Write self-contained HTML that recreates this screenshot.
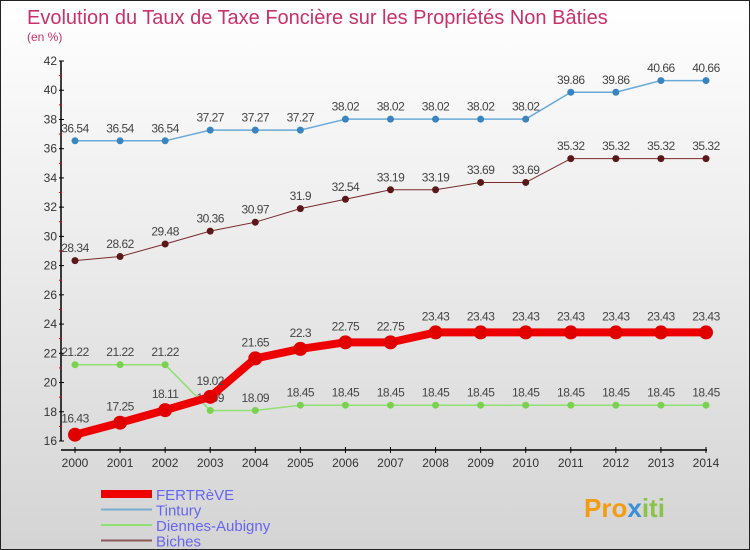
<!DOCTYPE html>
<html><head><meta charset="utf-8"><style>
body{margin:0;width:750px;height:550px;overflow:hidden;font-family:"Liberation Sans",sans-serif}
#wrap{position:relative;width:748px;height:548px;border:1px solid #222;background:linear-gradient(#ffffff,#d4d4d4)}
</style></head><body>
<div id="wrap">
<svg id="chart" width="748" height="548" style="position:absolute;left:0;top:0">
<text x="26" y="23" font-size="20" fill="#c8316a">Evolution du Taux de Taxe Foncière sur les Propriétés Non Bâties</text>
<text x="26" y="40" font-size="12" fill="#c8316a">(en %)</text>
<g id="axes"></g><g id="series"></g><g id="legend"></g>
<text x="583" y="516" font-size="26" font-weight="bold" fill="#f39c12">Pro<tspan fill="#3a8fd8">x</tspan><tspan fill="#8bc34a">iti</tspan></text>
</svg>
</div>
<script>
const years=[2000,2001,2002,2003,2004,2005,2006,2007,2008,2009,2010,2011,2012,2013,2014];
const yTicks=[16,18,20,22,24,26,28,30,32,34,36,38,40,42];
const fertreve=[16.43,17.25,18.11,19.02,21.65,22.3,22.75,22.75,23.43,23.43,23.43,23.43,23.43,23.43,23.43];
const tintury=[36.54,36.54,36.54,37.27,37.27,37.27,38.02,38.02,38.02,38.02,38.02,39.86,39.86,40.66,40.66];
const diennes=[21.22,21.22,21.22,18.09,18.09,18.45,18.45,18.45,18.45,18.45,18.45,18.45,18.45,18.45,18.45];
const biches=[28.34,28.62,29.48,30.36,30.97,31.9,32.54,33.19,33.19,33.69,33.69,35.32,35.32,35.32,35.32];
const NS="http://www.w3.org/2000/svg";
const x=i=>74+i*(705-74)/(years.length-1);
const y=v=>440-(v-16)*(380/26);
function mk(tag,attrs,parent){const e=document.createElementNS(NS,tag);for(const k in attrs)e.setAttribute(k,attrs[k]);parent.appendChild(e);return e;}
const axes=document.getElementById('axes');
let l=mk('line',{x1:60,y1:y(42),x2:60,y2:y(16),stroke:'#000','stroke-width':1.5},axes);


l=mk('line',{x1:60,y1:449,x2:706,y2:449,stroke:'#000','stroke-width':1.5},axes);


yTicks.forEach((t,k)=>{
 mk('line',{x1:58,x2:63,y1:y(t),y2:y(t),stroke:'#000'},axes);
 if(k<yTicks.length-1) mk('line',{x1:58,x2:61,y1:y(t+1),y2:y(t+1),stroke:'#e00'},axes);
 const tx=mk('text',{x:56,y:y(t)+4,'text-anchor':'end','font-size':12,fill:'#333'},axes);tx.textContent=t;
 
 
});
years.forEach((yr,i)=>{
 mk('line',{x1:x(i),x2:x(i),y1:446,y2:452,stroke:'#000'},axes);
 const tx=mk('text',{x:x(i),y:466,'text-anchor':'middle','font-size':12,fill:'#333'},axes);tx.textContent=yr;
 
 
});
const ser=document.getElementById('series');
const defs=[
 {d:biches,c:'#7b2a2a',w:1,r:3.5,dot:'#5a1818',name:'biches'},
 {d:diennes,c:'#8fe070',w:1.5,r:3.5,dot:'#7ad14f',name:'diennes-aubigny'},
 {d:tintury,c:'#6aaad8',w:1.5,r:3.5,dot:'#3a85c0',name:'tintury'},
 {d:fertreve,c:'#ee0000',w:8,r:7,dot:'#e00000',name:'fertreve'}];
defs.forEach(s=>{
 const g=mk('g',{},ser);
 
 
 const p=mk('polyline',{points:s.d.map((v,i)=>x(i)+','+y(v)).join(' '),fill:'none',stroke:s.c,'stroke-width':s.w,'stroke-linejoin':'round'},g);
 
 
 s.d.forEach((v,i)=>{
  const c=mk('circle',{cx:x(i),cy:y(v),r:s.r,fill:s.dot},g);
  
  
  const t=mk('text',{x:x(i),y:y(v)-(s.r+5),'text-anchor':'middle','font-size':12,fill:'#444','letter-spacing':'-0.5'},g);
  t.textContent=v;
  
  
 });
});
const lg=document.getElementById('legend');
const items=[['FERTRèVE','#ee0000',8],['Tintury','#7aaed0',2],['Diennes-Aubigny','#8fe070',2],['Biches','#8a5a5a',2]];
items.forEach((it,i)=>{
 const yy=493+i*15.5;
 const g=mk('g',{},lg);
 
 
 mk('line',{x1:100,x2:151,y1:yy,y2:yy,stroke:it[1],'stroke-width':it[2]},g);
 const t=mk('text',{x:155,y:yy+6,'font-size':15,fill:'#6666ee'},g);t.textContent=it[0];
});
</script>
</body></html>
